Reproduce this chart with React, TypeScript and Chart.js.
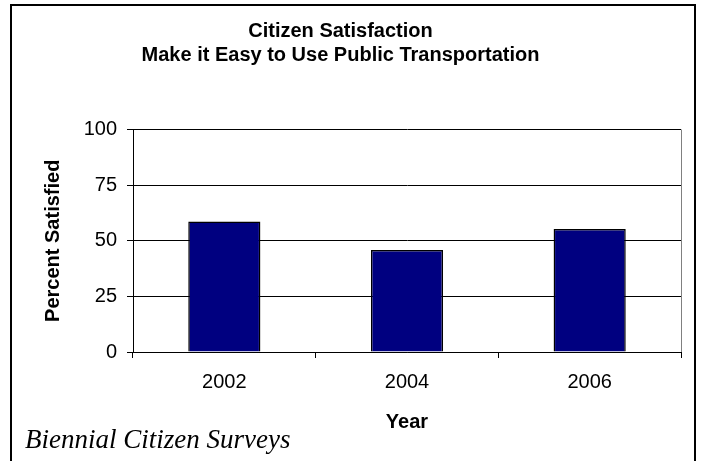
import React, { useEffect, useRef } from "react";
import { Chart, registerables } from "chart.js";

Chart.register(...registerables);

const categories = ["2002", "2004", "2006"];
const satisfied = [58.7, 45.8, 55.3];
const yTicks = [0, 25, 50, 75, 100];
const titleLines = ["Citizen Satisfaction", "Make it Easy to Use Public Transportation"];
const yTitle = "Percent Satisfied";
const xTitle = "Year";
const footnote = "Biennial Citizen Surveys";

const SANS = 'Arial, "Liberation Sans", sans-serif';
const SERIF = '"Times New Roman", "Liberation Serif", serif';

export default function App() {
  const ref = useRef<HTMLCanvasElement | null>(null);

  useEffect(() => {
    const canvas = ref.current;
    if (!canvas) return;

    const decorations = {
      id: "decorations",
      beforeDatasetsDraw(chart: any) {
        const { ctx, chartArea } = chart;
        ctx.save();
        ctx.strokeStyle = "#808080";
        ctx.lineWidth = 1;
        ctx.beginPath();
        ctx.moveTo(Math.round(chartArea.right) + 0.5, chartArea.top);
        ctx.lineTo(Math.round(chartArea.right) + 0.5, chartArea.bottom);
        ctx.stroke();
        ctx.restore();
      },
      afterDraw(chart: any) {
        const { ctx } = chart;
        ctx.save();
        ctx.strokeStyle = "#000";
        ctx.lineWidth = 2;
        ctx.strokeRect(11, 5, 684, 500);
        ctx.fillStyle = "#000";
        ctx.font = `italic 27px ${SERIF}`;
        ctx.textAlign = "left";
        ctx.textBaseline = "alphabetic";
        ctx.fillText(footnote, 25, 448);
        ctx.restore();
      },
    };

    const chart = new Chart(canvas, {
      type: "bar",
      data: {
        labels: categories,
        datasets: [
          {
            data: satisfied,
            backgroundColor: "#000080",
            borderColor: "#000000",
            borderWidth: 1.5,
            barPercentage: 0.395,
            categoryPercentage: 1,
          },
        ],
      },
      options: {
        responsive: false,
        animation: false,
        devicePixelRatio: 1,
        layout: { padding: { left: 0, right: 21, top: 0, bottom: 0 } },
        plugins: {
          legend: { display: false },
          tooltip: { enabled: false },
          title: {
            display: true,
            text: titleLines,
            color: "#000",
            font: { family: SANS, size: 20, weight: "bold", lineHeight: "24px" },
            padding: { top: 19, bottom: 62.5 },
          },
        },
        scales: {
          x: {
            grid: {
              display: true,
              drawOnChartArea: false,
              drawTicks: true,
              tickLength: 6,
              color: "#000",
              offset: true,
            },
            border: { color: "#000", width: 1 },
            ticks: { color: "#000", font: { family: SANS, size: 20, lineHeight: "24px" }, padding: 12 },
            title: {
              display: true,
              text: xTitle,
              color: "#000",
              font: { family: SANS, size: 20, weight: "bold", lineHeight: "24px" },
              padding: { top: 0, bottom: 27 },
            },
            afterFit: (s: any) => {
              s.height = 109;
            },
          },
          y: {
            min: 0,
            max: 100,
            afterBuildTicks: (s: any) => {
              s.ticks = yTicks.map((v) => ({ value: v }));
            },
            grid: { color: "#000", lineWidth: 1, tickLength: 6, drawTicks: true },
            border: { color: "#000", width: 1 },
            ticks: { color: "#000", font: { family: SANS, size: 20, lineHeight: "24px" }, padding: 10 },
            title: {
              display: true,
              text: yTitle,
              color: "#000",
              font: { family: SANS, size: 20, weight: "bold", lineHeight: "24px" },
              padding: { top: 41, bottom: 0 },
            },
            afterFit: (s: any) => {
              s.width = 133;
            },
          },
        },
      },
      plugins: [decorations],
    });

    return () => chart.destroy();
  }, []);

  return (
    <div style={{ position: "absolute", left: 0, top: 0, width: 702, height: 461, background: "#fff" }}>
      <canvas ref={ref} width={702} height={461} />
    </div>
  );
}
